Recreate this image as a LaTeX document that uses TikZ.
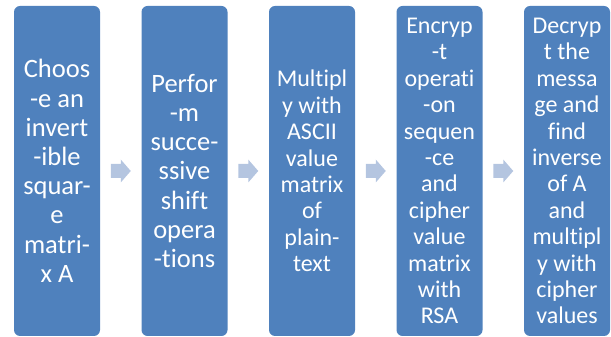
\documentclass[tikz,border=0pt]{standalone}
\usepackage{fontspec}
\setmainfont{Carlito}[Ligatures={NoCommon}]
\usetikzlibrary{calc}
\definecolor{boxblue}{HTML}{4F81BD}
\definecolor{arrowblue}{HTML}{B4C5E0}
\tikzset{
  stepbox/.style={rectangle, rounded corners=6pt, fill=boxblue, text=white,
    minimum width=86pt, minimum height=330pt, inner sep=0pt, align=center},
  bigtext/.style={font=\fontsize{26.5pt}{29.2pt}\selectfont},
  smalltext/.style={font=\fontsize{24pt}{26.4pt}\selectfont},
  arrowfill/.style={fill=arrowblue}
}
\newcommand{\blockarrow}[1]{%
  \fill[arrowfill] ([shift={(-10pt,-7pt)}]#1) -- ([shift={(0pt,-7pt)}]#1) -- ([shift={(0pt,-11.5pt)}]#1)
    -- ([shift={(10pt,0pt)}]#1) -- ([shift={(0pt,11.5pt)}]#1) -- ([shift={(0pt,7pt)}]#1)
    -- ([shift={(-10pt,7pt)}]#1) -- cycle;}
\begin{document}
\begin{tikzpicture}[x=1pt,y=1pt]
\useasboundingbox (0,0) rectangle (611,337);
\node[stepbox, bigtext] (b1) at (57,166) {Choos\\-e an\\invert\\-ible\\squar-\\e\\matri-\\x A};
\node[stepbox, bigtext] (b2) at (184.5,166) {Perfor\\-m\\succe-\\ssive\\shift\\opera\\-tions};
\node[stepbox, smalltext] (b3) at (312,166) {Multipl\\y with\\ASCII\\value\\matrix\\of\\plain-\\text};
\node[stepbox, smalltext] (b4) at (439.5,166) {Encryp\\-t\\operati\\-on\\sequen\\-ce\\and\\cipher\\value\\matrix\\with\\RSA};
\node[stepbox, smalltext] (b5) at (567,166) {Decryp\\t the\\messa\\ge and\\find\\inverse\\of A\\and\\multipl\\y with\\cipher\\values};
\coordinate (m1) at ($(b1.east)!0.5!(b2.west)$);
\coordinate (m2) at ($(b2.east)!0.5!(b3.west)$);
\coordinate (m3) at ($(b3.east)!0.5!(b4.west)$);
\coordinate (m4) at ($(b4.east)!0.5!(b5.west)$);
\blockarrow{m1}
\blockarrow{m2}
\blockarrow{m3}
\blockarrow{m4}
\end{tikzpicture}
\end{document}
